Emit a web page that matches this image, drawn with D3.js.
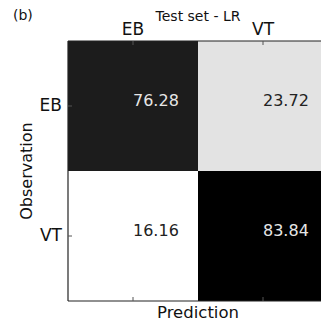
<!DOCTYPE html>
<html>
<head>
<meta charset="utf-8">
<script src="https://cdn.jsdelivr.net/npm/d3@7"></script>
<style>
  body { margin: 0; background: #fff; }
  text { font-family: "DejaVu Sans", sans-serif; }
</style>
</head>
<body>
<svg id="cm" width="321" height="328"></svg>
<script>
// confusion matrix values (rows = observation, cols = prediction)
var classes = ["EB", "VT"];
var rowEB = [76.28, 23.72];
var rowVT = [16.16, 83.84];
var rows = [rowEB, rowVT];

var svg = d3.select("#cm");
var padL = 68, padT = 41, cell = 130;

var x = d3.scaleBand().domain(classes).range([padL, padL + cell * 2]);
var y = d3.scaleBand().domain(classes).range([padT, padT + cell * 2]);
var allVals = rowEB.concat(rowVT);
var shade = d3.scaleLinear().domain([d3.min(allVals), d3.max(allVals)]).range([255, 0]);

var cells = [];
rows.forEach(function(r, i) {
  r.forEach(function(v, j) {
    cells.push({ obs: classes[i], pred: classes[j], v: v });
  });
});

svg.selectAll("rect.cell")
  .data(cells)
  .enter().append("rect")
  .attr("class", "cell")
  .attr("x", function(d) { return x(d.pred); })
  .attr("y", function(d) { return y(d.obs); })
  .attr("width", x.bandwidth())
  .attr("height", y.bandwidth())
  .attr("fill", function(d) { var g = Math.round(shade(d.v)); return d3.rgb(g, g, g); });

svg.selectAll("text.val")
  .data(cells)
  .enter().append("text")
  .attr("class", "val")
  .attr("x", function(d) { return x(d.pred) + x.bandwidth() / 2; })
  .attr("y", function(d) { return y(d.obs) + y.bandwidth() / 2 - 6; })
  .attr("dy", "0.35em")
  .style("font-size", "16px")
  .style("fill", function(d) { return shade(d.v) < 128 ? "#e6e6e6" : "#222"; })
  .text(function(d) { return d.v.toFixed(2); });

// spines
var spine = svg.append("g").style("stroke", "#222").style("stroke-width", "1.2px");
spine.append("line").attr("x1", padL).attr("x2", padL).attr("y1", padT).attr("y2", padT + cell * 2);
spine.append("line").attr("x1", padL).attr("x2", padL + cell * 2).attr("y1", padT).attr("y2", padT);
spine.append("line").attr("x1", padL).attr("x2", padL + cell * 2).attr("y1", padT + cell * 2).attr("y2", padT + cell * 2);

// axes with inward ticks
var xTop = svg.append("g").attr("transform", "translate(0," + padT + ")")
  .call(d3.axisTop(x).tickSizeInner(-4).tickSizeOuter(0).tickPadding(6));
var xBot = svg.append("g").attr("transform", "translate(0," + (padT + cell * 2) + ")")
  .call(d3.axisBottom(x).tickSizeInner(-4).tickSizeOuter(0).tickFormat(""));
var yLeft = svg.append("g").attr("transform", "translate(" + padL + ",0)")
  .call(d3.axisLeft(y).tickSizeInner(-4).tickSizeOuter(0).tickPadding(6));

[xTop, xBot, yLeft].forEach(function(a) {
  a.select(".domain").remove();
  a.selectAll(".tick line").style("stroke", "#555");
  a.selectAll("text").style("font-size", "17px").style("font-family", "DejaVu Sans").style("fill", "#111");
});

svg.append("text")
  .attr("x", padL + cell).attr("y", 21)
  .attr("text-anchor", "middle")
  .style("font-size", "14px").style("fill", "#111")
  .text("Test set - LR");

svg.append("text")
  .attr("x", 13).attr("y", 20)
  .style("font-size", "14px").style("fill", "#111")
  .text("(b)");

svg.append("text")
  .attr("x", padL + cell).attr("y", 318)
  .attr("text-anchor", "middle")
  .style("font-size", "16.5px").style("fill", "#111")
  .text("Prediction");

svg.append("text")
  .attr("transform", "translate(32," + (padT + cell) + ") rotate(-90)")
  .attr("text-anchor", "middle")
  .style("font-size", "16px").style("fill", "#111")
  .text("Observation");
</script>
</body>
</html>
